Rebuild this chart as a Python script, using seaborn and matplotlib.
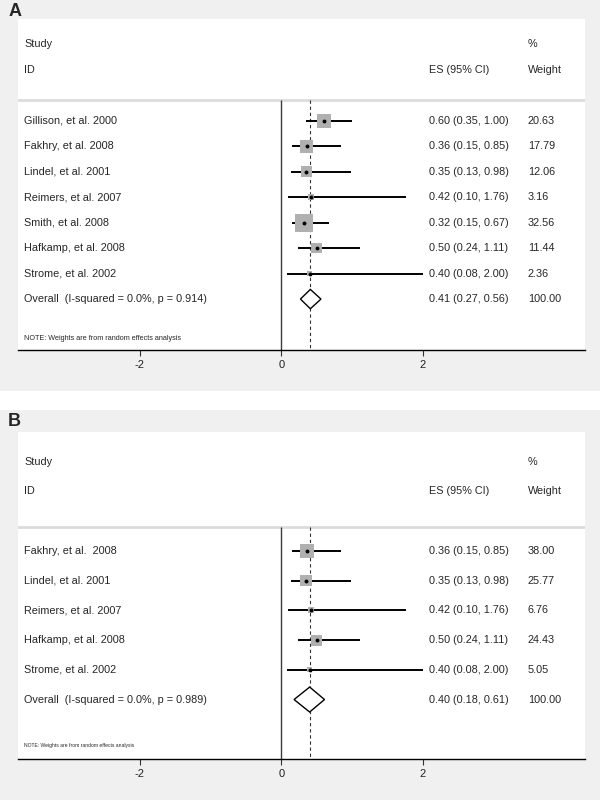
import matplotlib
matplotlib.use("Agg")
import matplotlib.pyplot as plt
from matplotlib.patches import Rectangle, Polygon
import seaborn as sns

# Panel A data
studies_a = ["Gillison, et al. 2000", "Fakhry, et al. 2008", "Lindel, et al. 2001",
             "Reimers, et al. 2007", "Smith, et al. 2008", "Hafkamp, et al. 2008",
             "Strome, et al. 2002"]
es_a = [0.60, 0.36, 0.35, 0.42, 0.32, 0.50, 0.40]
lo_a = [0.35, 0.15, 0.13, 0.10, 0.15, 0.24, 0.08]
hi_a = [1.00, 0.85, 0.98, 1.76, 0.67, 1.11, 2.00]
wt_a = [20.63, 17.79, 12.06, 3.16, 32.56, 11.44, 2.36]
overall_a = [0.41, 0.27, 0.56]
overall_label_a = "Overall  (I-squared = 0.0%, p = 0.914)"

# Panel B data
studies_b = ["Fakhry, et al.  2008", "Lindel, et al. 2001", "Reimers, et al. 2007",
             "Hafkamp, et al. 2008", "Strome, et al. 2002"]
es_b = [0.36, 0.35, 0.42, 0.50, 0.40]
lo_b = [0.15, 0.13, 0.10, 0.24, 0.08]
hi_b = [0.85, 0.98, 1.76, 1.11, 2.00]
wt_b = [38.00, 25.77, 6.76, 24.43, 5.05]
overall_b = [0.40, 0.18, 0.61]
overall_label_b = "Overall  (I-squared = 0.0%, p = 0.989)"

note_text = "NOTE: Weights are from random effects analysis"
x_ticks = [-2, 0, 2]
x_tick_labels = ["-2", "0", "2"]

sns.set_theme(style="white")
plt.rcParams["font.family"] = ["Liberation Sans", "DejaVu Sans"]

XMIN, XMAX = -3.72, 4.29
FS = 7.8
GRAY_BG = "#f0f0f0"


def draw_panel(ax, studies, es, lo, hi, wt, overall, overall_label,
               note_size, smax, dh):
    n = len(studies)
    rows = list(range(n))
    bottom = n + 2
    ax.set_xlim(XMIN, XMAX)
    ax.set_ylim(bottom, -4)
    ax.set_facecolor("white")

    # separator + reference lines
    ax.axhline(-0.8, color="#dcdcdc", lw=2, zorder=1)
    ax.vlines(0, -0.8, bottom, color="#3c3c3c", lw=1.0, zorder=2)
    ax.vlines(overall[0], -0.8, bottom, color="#333333", lw=0.8,
              linestyles=(0, (3, 2.5)), zorder=2)

    # confidence intervals
    ax.hlines(rows, lo, hi, color="black", lw=1.4, zorder=3)

    # weight boxes (area proportional to weight)
    sns.scatterplot(x=es, y=rows, size=wt, size_norm=(0, max(wt)),
                    sizes=(0, smax), marker="s", color="#b0b0b0",
                    edgecolor="none", legend=False, ax=ax, zorder=4)
    ax.plot(es, rows, "o", color="black", ms=1.8, zorder=5)

    # overall diamond
    est, low, upp = overall
    diamond = Polygon([[low, n], [est, n - dh], [upp, n], [est, n + dh]],
                      closed=True, facecolor="white", edgecolor="black",
                      lw=1.0, zorder=5)
    ax.add_patch(diamond)

    # text columns
    x_name, x_es, x_wt = -3.63, 2.085, 3.48
    ax.text(x_name, -3, "Study", fontsize=FS, va="center")
    ax.text(x_name, -2, "ID", fontsize=FS, va="center")
    ax.text(x_es, -2, "ES (95% CI)", fontsize=FS, va="center")
    ax.text(x_wt, -3, "%", fontsize=FS, va="center")
    ax.text(x_wt, -2, "Weight", fontsize=FS, va="center")
    for r, name, e, l, h, w in zip(rows, studies, es, lo, hi, wt):
        ax.text(x_name, r, name, fontsize=FS, va="center")
        ax.text(x_es, r, f"{e:.2f} ({l:.2f}, {h:.2f})", fontsize=FS, va="center")
        ax.text(x_wt, r, f"{w:.2f}", fontsize=FS, va="center")
    ax.text(x_name, n, overall_label, fontsize=FS, va="center")
    ax.text(x_es, n, f"{est:.2f} ({low:.2f}, {upp:.2f})", fontsize=FS, va="center")
    ax.text(x_wt, n, "100.00", fontsize=FS, va="center")
    ax.text(x_name, n + 1.56, note_text, fontsize=note_size, va="center")

    # axis styling
    for side in ["left", "top", "right"]:
        ax.spines[side].set_visible(False)
    ax.spines["bottom"].set_color("black")
    ax.spines["bottom"].set_linewidth(1.0)
    ax.set_yticks([])
    ax.set_xticks(x_ticks, labels=x_tick_labels)
    ax.tick_params(axis="x", bottom=True, length=4.5, width=0.8, pad=3,
                   labelsize=8, color="#333333", labelcolor="#222222")
    ax.set_xlabel("")
    ax.set_ylabel("")


fig = plt.figure(figsize=(6, 8), dpi=100, facecolor="white")
H, W = 800.0, 600.0

# gray graph regions
fig.patches.append(Rectangle((0, 1 - 391 / H), 1, 391 / H, transform=fig.transFigure,
                             facecolor=GRAY_BG, edgecolor="none", zorder=-10))
fig.patches.append(Rectangle((0, 0), 1, (H - 410) / H, transform=fig.transFigure,
                             facecolor=GRAY_BG, edgecolor="none", zorder=-10))

ax_a = fig.add_axes([18 / W, 1 - 350 / H, (585 - 18) / W, (350 - 19) / H])
ax_b = fig.add_axes([18 / W, 1 - 759 / H, (585 - 18) / W, (759 - 432) / H])

draw_panel(ax_a, studies_a, es_a, lo_a, hi_a, wt_a, overall_a, overall_label_a,
           note_size=5.2, smax=165, dh=0.38)
draw_panel(ax_b, studies_b, es_b, lo_b, hi_b, wt_b, overall_b, overall_label_b,
           note_size=3.6, smax=100, dh=0.42)

fig.text(15 / W, 1 - 12 / H, "A", fontsize=13, fontweight="bold", ha="center", va="center")
fig.text(14 / W, 1 - 422 / H, "B", fontsize=13, fontweight="bold", ha="center", va="center")

fig.savefig("out.png", dpi=100, facecolor="white")
